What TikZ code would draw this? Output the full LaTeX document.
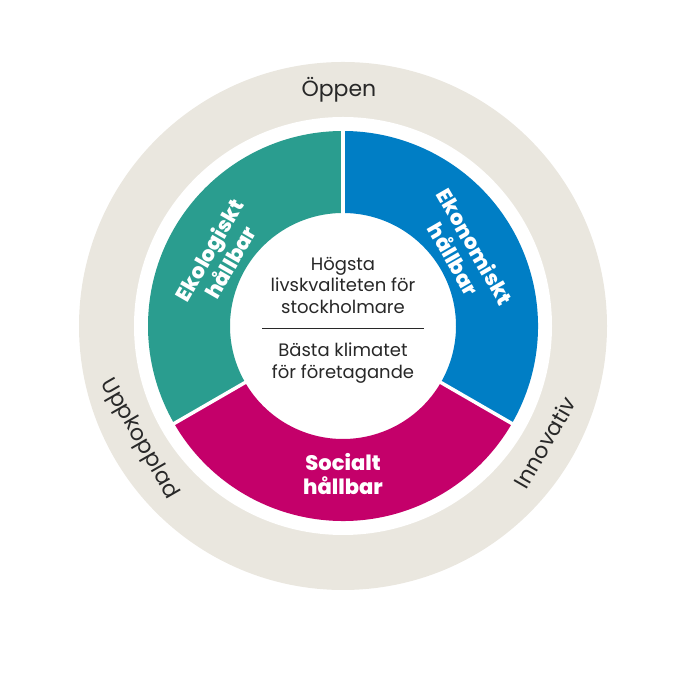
\documentclass[tikz,border=0pt]{standalone}
\usepackage{fontspec}
\setmainfont{Poppins}[BoldFont={Poppins ExtraBold}]
\usepackage{tikz}
\definecolor{ringgray}{RGB}{234,231,223}
\definecolor{ekoteal}{RGB}{42,157,143}
\definecolor{ekoblue}{RGB}{0,126,197}
\definecolor{socmagenta}{RGB}{196,0,106}
\definecolor{textgray}{RGB}{40,40,40}
\tikzstyle{seglabel}=[text=white,font=\bfseries\fontsize{21}{24.5}\selectfont,
                      align=center,inner sep=0pt]
\tikzstyle{ringlabel}=[text=textgray,font=\fontsize{22}{26}\selectfont,
                       inner sep=0pt]
\tikzstyle{midtext}=[text=textgray,font=\fontsize{18}{21.5}\selectfont,
                     align=center,inner sep=0pt]
\tikzstyle{divider}=[draw=white,line width=3.5pt]

\begin{document}
\begin{tikzpicture}[x=1pt,y=1pt]
    \useasboundingbox (0,0) rectangle (680,679);
    \newcommand{\rin}{113pt}
    \newcommand{\rseg}{195pt}
    \begin{scope}[shift={(343,353)}]
    % outer ring
    \fill[ringgray] (0,0) circle (264pt);
    \fill[white] (0,0) circle (209pt);
    % three segments
    \fill[ekoteal] (90:\rin) -- (90:\rseg) arc[start angle=90,end angle=210,radius=\rseg]
        -- (210:\rin) arc[start angle=210,end angle=90,radius=\rin] -- cycle;
    \fill[socmagenta] (210:\rin) -- (210:\rseg) arc[start angle=210,end angle=330,radius=\rseg]
        -- (330:\rin) arc[start angle=330,end angle=210,radius=\rin] -- cycle;
    \fill[ekoblue] (-30:\rin) -- (-30:\rseg) arc[start angle=-30,end angle=90,radius=\rseg]
        -- (90:\rin) arc[start angle=90,end angle=-30,radius=\rin] -- cycle;
    \foreach \a in {90,210,330}
        \draw[divider] (\a:110pt) -- (\a:198pt);
    % segment labels
    \node[seglabel,rotate=60] (ekolog) at (150.5:142pt) {Ekologiskt\\hållbar};
    \node[seglabel,rotate=-60] (ekonom) at (31:142pt) {Ekonomiskt\\hållbar};
    \node[seglabel] (social) at (270:148pt) {Socialt\\hållbar};
    % ring labels
    \node[ringlabel] (oppen) at (91:236pt) {Öppen};
    \node[ringlabel,rotate=-60] (uppkopplad) at (209:233pt) {Uppkopplad};
    \node[ringlabel,rotate=60] (innovativ) at (330:233pt) {Innovativ};
    % centre
    \node[midtext] (livskvalitet) at (0,41) {Högsta\\livskvaliteten för\\stockholmare};
    \coordinate (sepL) at (-81,-3);
    \coordinate (sepR) at (81,-3);
    \draw[textgray,line width=1pt] (sepL) -- (sepR);
    \node[midtext] (klimat) at (0,-37) {Bästa klimatet\\för företagande};
    \end{scope}
\end{tikzpicture}
\end{document}
